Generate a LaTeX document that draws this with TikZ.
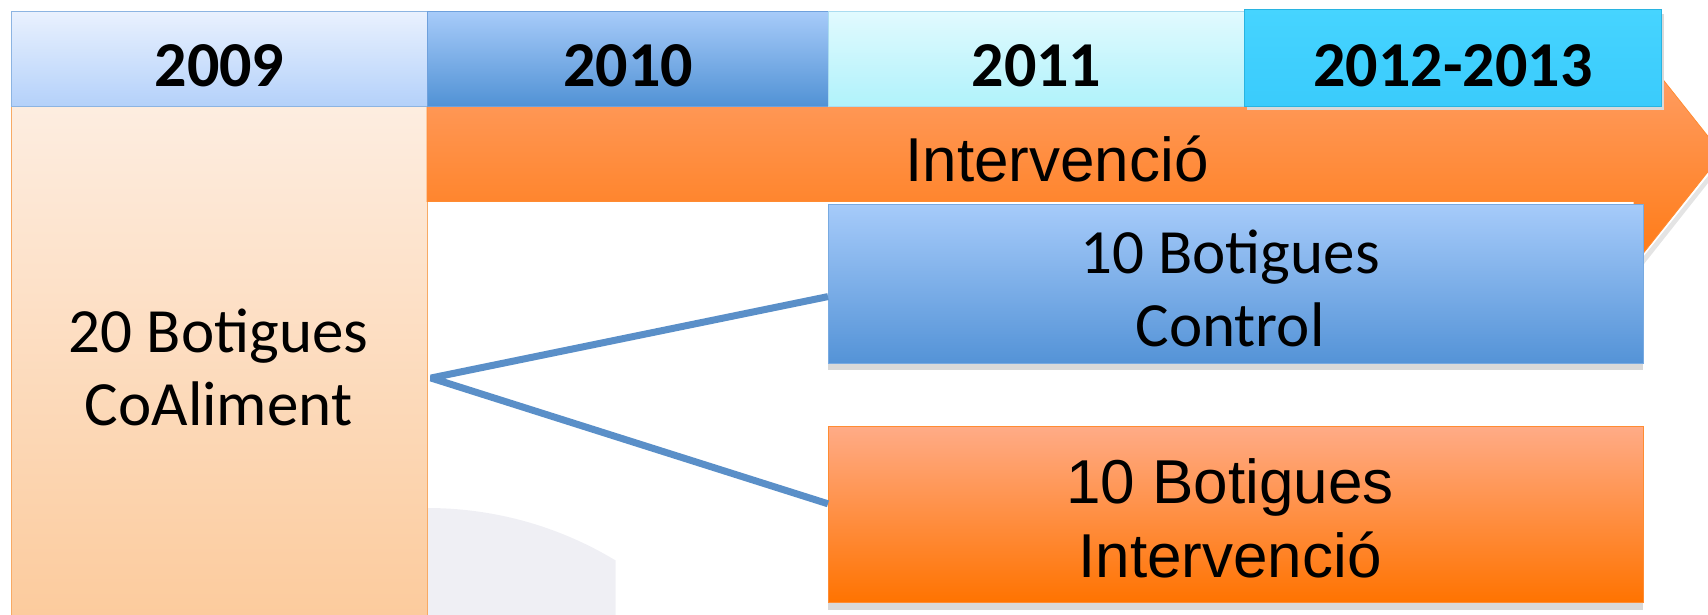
\documentclass[tikz,border=0pt]{standalone}
\usepackage{fontspec}
\newfontfamily\calfont{Carlito}
\newfontfamily\arifont{Liberation Sans}
\usetikzlibrary{calc}
\definecolor{lineblue}{HTML}{5A8FC8}
\definecolor{ghost}{HTML}{EFEFF4}
\definecolor{shadowgray}{HTML}{D9D9D9}
\definecolor{softshadow}{HTML}{E4E4E4}
\definecolor{coaltop}{RGB}{253,237,224}
\definecolor{coalbot}{RGB}{252,203,157}
\definecolor{coalline}{RGB}{248,170,100}
\definecolor{arrtop}{RGB}{255,162,110}
\definecolor{arrbot}{RGB}{255,122,20}
\definecolor{arrline}{RGB}{255,140,50}
\definecolor{hAtop}{RGB}{233,241,254}
\definecolor{hAbot}{RGB}{180,209,250}
\definecolor{hAline}{RGB}{140,180,226}
\definecolor{hBtop}{RGB}{167,203,249}
\definecolor{hBbot}{RGB}{81,146,213}
\definecolor{hBline}{RGB}{110,160,220}
\definecolor{hCtop}{RGB}{225,250,254}
\definecolor{hCbot}{RGB}{176,242,251}
\definecolor{hCline}{RGB}{170,220,240}
\definecolor{hDtop}{RGB}{70,212,255}
\definecolor{hDbot}{RGB}{58,203,252}
\definecolor{hDline}{RGB}{40,180,225}
\definecolor{ctrltop}{RGB}{166,203,250}
\definecolor{ctrlbot}{RGB}{84,147,215}
\definecolor{ctrlline}{RGB}{120,170,225}
\definecolor{intop}{RGB}{255,171,134}
\definecolor{inbot}{RGB}{255,115,0}
\definecolor{inline}{RGB}{255,140,50}
\tikzset{
  hdrbox/.style={rectangle, inner sep=0pt, line width=1pt},
  hdrtxt/.style={font=\calfont\bfseries\fontsize{64}{70}\selectfont, anchor=base},
  calbig/.style={font=\calfont\fontsize{63}{73}\selectfont, align=center},
  aribig/.style={font=\arifont\fontsize{62}{74}\selectfont, align=center},
  connector/.style={draw=lineblue, line width=7pt, line join=bevel}
}
\begin{document}
\begin{tikzpicture}[x=1pt,y=-1pt]
\useasboundingbox (0,0) rectangle (1708,615);
% faint background shape
\begin{scope}
\clip (427,480) rectangle (615.5,615);
\fill[ghost] (427,873) circle (365);
\end{scope}
% left box
\node[rectangle, inner sep=0pt, minimum width=416pt, minimum height=510pt, anchor=north west,
  top color=coaltop, bottom color=coalbot, draw=coalline, line width=1pt] (coal) at (10.9,105.7) {};
\node[calbig, anchor=base] (coaltxt) at (218.5,425) {20 Botigues\\CoAliment};
% arrow band
\fill[softshadow] (1636,266) -- (1724,156) -- (1727,159) -- (1640,269) -- cycle;
\path[draw=arrline, line width=0.8pt, top color=arrtop, bottom color=arrbot]
  (427,105.7) -- (1634,105.7) -- (1634,43) -- (1722,154) -- (1634,265) -- (1634,201.5) -- (427,201.5) -- cycle;
\node[aribig, anchor=base] (armtxt) at (1057,182) {Intervenció};
% header
\node[hdrbox, draw=hAline, minimum width=416.1pt, minimum height=94.8pt, anchor=north west,
  top color=hAtop, bottom color=hAbot] (h1) at (10.9,10.9) {};
\node[hdrbox, draw=hBline, minimum width=401pt, minimum height=94.8pt, anchor=north west,
  top color=hBtop, bottom color=hBbot] (h2) at (427,10.9) {};
\node[hdrbox, draw=hCline, minimum width=416pt, minimum height=94.8pt, anchor=north west,
  top color=hCtop, bottom color=hCbot] (h3) at (828,10.9) {};
\fill[shadowgray] (1247,14) rectangle (1664,110);
\node[hdrbox, draw=hDline, minimum width=417pt, minimum height=97pt, anchor=north west,
  top color=hDtop, bottom color=hDbot] (h4) at (1244,8.7) {};
\node[hdrtxt] (t1) at (h1.center |- 0,87) {2009};
\node[hdrtxt] (t2) at (h2.center |- 0,87) {2010};
\node[hdrtxt] (t3) at (h3.center |- 0,87) {2011};
\node[hdrtxt] (t4) at (h4.center |- 0,87) {2012-2013};
% control box
\fill[shadowgray] (828,362.7) rectangle (1643,370);
\node[rectangle, inner sep=0pt, minimum width=815pt, minimum height=159pt, anchor=north west,
  top color=ctrltop, bottom color=ctrlbot, draw=ctrlline, line width=0.8pt] (ctrl) at (828,203.7) {};
\node[calbig, anchor=base] (ctrltxt) at (1230,346) {10 Botigues\\Control};
% intervention box
\fill[shadowgray] (828,602.4) rectangle (1643,610);
\node[rectangle, inner sep=0pt, minimum width=815pt, minimum height=176pt, anchor=north west,
  top color=intop, bottom color=inbot, draw=inline, line width=0.8pt] (interv) at (828,426.4) {};
\node[aribig, anchor=base] (intervtxt) at (1230,577) {10 Botigues\\Intervenció};
% connectors
\coordinate (split) at (431,378);
\draw[connector] ([yshift=-13pt]ctrl.west) -- (split) -- ([yshift=11pt]interv.west);
\end{tikzpicture}
\end{document}
